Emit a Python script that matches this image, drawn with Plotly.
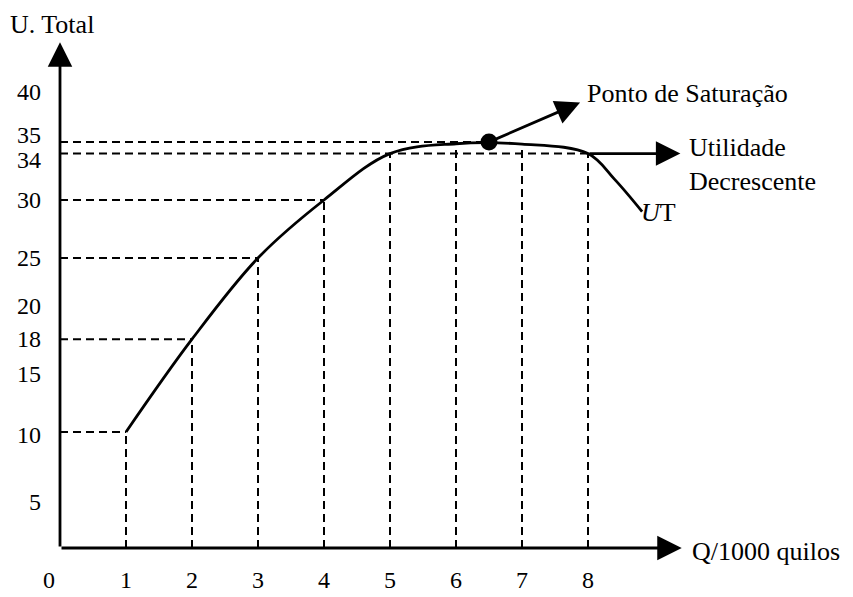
import plotly.graph_objects as go

# ---- data ----
ut_x = [1, 2, 3, 4, 5, 6, 7, 8, 8.4, 8.82]
ut_y = [10, 18, 25, 30, 34, 34.85, 34.82, 34, 31.8, 29.0]

x_ticks = [1, 2, 3, 4, 5, 6, 7, 8]
x_tick_labels = ["1", "2", "3", "4", "5", "6", "7", "8"]
y_ticks = [5, 10, 15, 18, 20, 25, 30, 34, 35, 40]
y_tick_labels = ["5", "10", "15", "18", "20", "25", "30", "34", "35", "40"]

# horizontal guides: level and x where it meets the curve
h_guides_y = [10, 18, 25, 30, 34, 35]
h_guides_x = [1, 2, 3, 4, 8, 6.5]
# vertical guides: x and curve height
v_guides_x = [1, 2, 3, 4, 5, 6, 7, 8]
v_guides_y = [10, 18, 25, 30, 34, 34.85, 34.82, 34]

sat_x, sat_y = 6.5, 35

FONT = "Liberation Serif"
txt = dict(family=FONT, size=26, color="black")
num = dict(family=FONT, size=24, color="black")
label_nudge = {35: 7, 34: -6, 40: -8, 20: 10, 10: -3, 5: -12}

fig = go.Figure()

dash = dict(color="black", width=2, dash="8px,5px")
for yv, xv in zip(h_guides_y, h_guides_x):
    fig.add_trace(go.Scatter(x=[0, xv], y=[yv, yv], mode="lines", line=dash,
                             hoverinfo="skip", showlegend=False))
for xv, yv in zip(v_guides_x, v_guides_y):
    fig.add_trace(go.Scatter(x=[xv, xv], y=[0, yv], mode="lines", line=dash,
                             hoverinfo="skip", showlegend=False))

# UT curve
fig.add_trace(go.Scatter(x=ut_x, y=ut_y, mode="lines",
                         line=dict(color="black", width=2.8, shape="spline", smoothing=1.0),
                         hoverinfo="skip", showlegend=False))

# saturation point
fig.add_trace(go.Scatter(x=[sat_x], y=[sat_y], mode="markers",
                         marker=dict(color="black", size=17),
                         hoverinfo="skip", showlegend=False))


def arrow(x0, y0, x1, y1, w=2.8):
    fig.add_annotation(x=x1, y=y1, ax=x0, ay=y0, xref="x", yref="y",
                       axref="x", ayref="y", text="", showarrow=True,
                       arrowhead=2, arrowsize=1.75, arrowwidth=w,
                       arrowcolor="black")


arrow(0, 0, 0, 43.6)              # y axis
arrow(0, 0, 9.42, 0)              # x axis
arrow(sat_x, sat_y, 7.88, 38.4)   # saturation
arrow(8, 34, 9.40, 34)            # decreasing utility

fig.add_annotation(x=0, y=43.6, xref="x", yref="y", text="U. Total",
                   showarrow=False, font=txt, xanchor="left", yanchor="bottom",
                   xshift=-52, yshift=1)
fig.add_annotation(x=9.55, y=0, xref="x", yref="y", text="Q/1000 quilos",
                   showarrow=False, font=txt, xanchor="left", yanchor="middle",
                   yshift=-3)
fig.add_annotation(x=7.95, y=38.4, xref="x", yref="y", text="Ponto de Saturação",
                   showarrow=False, font=txt, xanchor="left", yanchor="middle",
                   yshift=9)
fig.add_annotation(x=9.5, y=34, xref="x", yref="y", text="Utilidade<br>Decrescente",
                   showarrow=False, font=txt, xanchor="left", yanchor="middle",
                   align="left", yshift=-11)
fig.add_annotation(x=ut_x[-1], y=ut_y[-1], xref="x", yref="y", text="<i>U</i>T",
                   showarrow=False, font=txt, xanchor="left", yanchor="middle",
                   xshift=-3, yshift=-1)

for v, lab in zip(y_ticks, y_tick_labels):
    fig.add_annotation(x=0, y=v, xref="x", yref="y", text=lab, showarrow=False,
                       font=num, xanchor="right", yanchor="middle",
                       xshift=-17, yshift=label_nudge.get(v, 0))
fig.add_annotation(x=0, y=0, xref="x", yref="y", text="0", showarrow=False,
                   font=num, xanchor="center", yanchor="middle",
                   xshift=-11, yshift=-32)

W, H = 837, 589
L, B, T, R = 52, 49, 2, 5
fig.update_layout(
    width=W, height=H,
    margin=dict(l=L, r=R, t=T, b=B),
    paper_bgcolor="white", plot_bgcolor="white",
    xaxis=dict(range=[0, (W - L - R) / 66.0], showgrid=False, zeroline=False,
               showline=False, tickmode="array", tickvals=x_ticks,
               ticktext=x_tick_labels, ticks="", ticklabelstandoff=15,
               tickfont=num, fixedrange=True, automargin=False),
    yaxis=dict(range=[0, (H - T - B) / 11.6], showgrid=False, zeroline=False,
               showline=False, showticklabels=False, ticks="", fixedrange=True,
               automargin=False),
    font=txt,
)

fig.write_html("out.html")
